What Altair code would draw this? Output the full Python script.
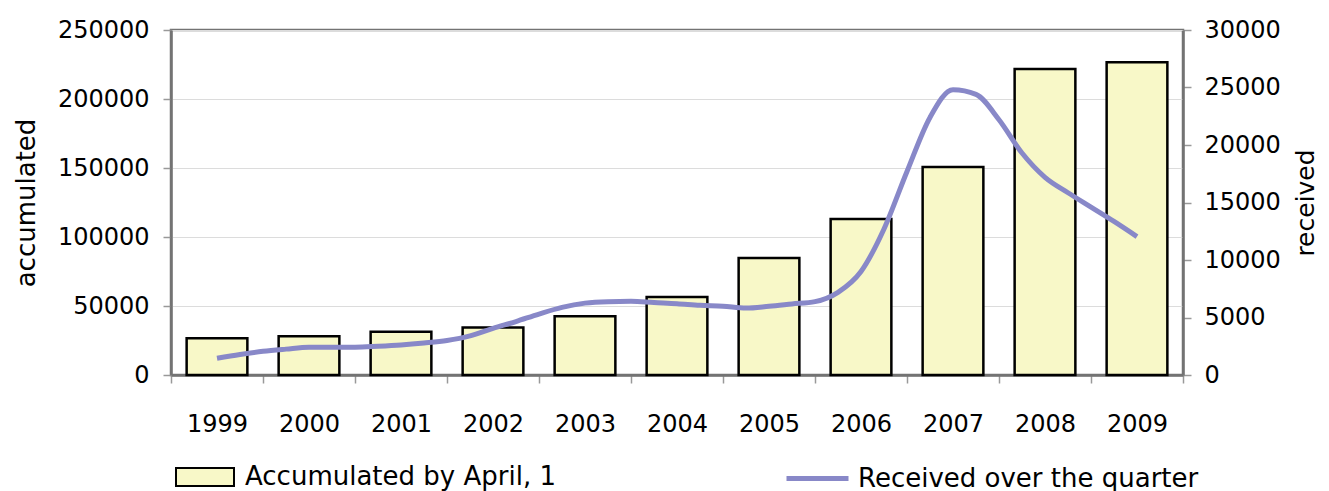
import altair as alt
import pandas as pd

years = ["1999", "2000", "2001", "2002", "2003", "2004", "2005", "2006", "2007", "2008", "2009"]
accumulated = [26600, 28000, 31400, 34500, 42500, 56500, 84800, 113000, 150700, 221700, 226600]

# quarterly values received (first quarter of 1999 .. first quarter of 2009)
received = [1450, 1780, 2060, 2250, 2410, 2420, 2420, 2500, 2610, 2780,
            3000, 3400, 4050, 4650, 5300, 5880, 6250, 6380, 6410, 6300,
            6200, 6060, 5980, 5820, 5980, 6180, 6380, 7190, 9000, 12700,
            17700, 22400, 24800, 24400, 22200, 19300, 17190, 15850, 14600, 13350,
            12030]
quarter_pos = [1999 + i / 4 for i in range(len(received))]

bar_label = "Accumulated by April, 1"
line_label = "Received over the quarter"

bars_df = pd.DataFrame({"year": years, "accumulated": accumulated})
line_df = pd.DataFrame({"t": quarter_pos, "received": received})

FONT = "DejaVu Sans"
GRAY = "#737373"

bars = alt.Chart(bars_df).mark_bar(
    width=alt.RelativeBandSize(0.66), stroke="black", strokeWidth=2.5
).encode(
    x=alt.X("year:O", sort=years,
            scale=alt.Scale(paddingInner=0, paddingOuter=0),
            axis=alt.Axis(title=None, labelAngle=0, tickBand="extent", tickSize=8,
                          labelPadding=29, labelFontSize=24, domainColor=GRAY,
                          domainWidth=2.5, tickColor="#999999", tickWidth=1.5)),
    y=alt.Y("accumulated:Q",
            scale=alt.Scale(domain=[0, 250000], nice=False),
            axis=alt.Axis(title="accumulated", orient="left",
                          values=[0, 50000, 100000, 150000, 200000, 250000],
                          format="d", grid=True, gridColor="#dcdcdc", gridWidth=1,
                          tickSize=8, labelPadding=14, labelFontSize=24,
                          titleFontSize=26, titlePadding=18,
                          domainColor=GRAY, domainWidth=2.5, tickColor="#999999", tickWidth=1.5)),
    fill=alt.Fill("lbl:N", scale=alt.Scale(domain=[bar_label], range=["#f8f8c8"]),
                  legend=alt.Legend(title=None, orient="none", legendX=13, legendY=426,
                                    symbolType="M-1.45,-0.45H1.45V0.45H-1.45Z",
                                    symbolSize=1600, symbolStrokeColor="black",
                                    symbolStrokeWidth=2, labelOffset=19,
                                    labelFontSize=26, labelLimit=0, padding=0)),
).transform_calculate(lbl=f"'{bar_label}'")

line = alt.Chart(line_df).mark_line(interpolate="monotone", strokeWidth=5).encode(
    x=alt.X("t:Q", scale=alt.Scale(domain=[1998.5, 2009.5], nice=False, zero=False), axis=None),
    y=alt.Y("received:Q",
            scale=alt.Scale(domain=[0, 30000], nice=False),
            axis=alt.Axis(title="received", orient="right",
                          values=[0, 5000, 10000, 15000, 20000, 25000, 30000],
                          format="d", grid=False, tickSize=8, labelPadding=13,
                          labelFontSize=24, titleFontSize=25, titlePadding=13,
                          titleAngle=270, titleBaseline="top", domainColor=GRAY,
                          domainWidth=2.5, tickColor="#999999", tickWidth=1.5)),
    stroke=alt.Stroke("lbl:N", scale=alt.Scale(domain=[line_label], range=["#8888c8"]),
                      legend=alt.Legend(title=None, orient="none", legendX=624, legendY=426,
                                        symbolType="M-1.55,0H1.55",
                                        symbolSize=1600, symbolStrokeWidth=5,
                                        labelOffset=18, labelFontSize=26, labelLimit=0,
                                        padding=0)),
).transform_calculate(lbl=f"'{line_label}'")

chart = alt.layer(bars, line).resolve_scale(
    x="independent", y="independent", fill="independent", stroke="independent"
).properties(
    width=1012, height=345,
    padding={"left": 5, "top": 10, "right": 0, "bottom": 0},
).configure(
    font=FONT,
).configure_axis(
    labelFont=FONT, titleFont=FONT, labelColor="black", titleColor="black",
    titleFontWeight="normal",
).configure_legend(
    labelFont=FONT, labelColor="black",
).configure_view(
    stroke=GRAY, strokeWidth=2.5,
)

chart.save("out.html", embed_options={"renderer": "svg", "actions": False})
